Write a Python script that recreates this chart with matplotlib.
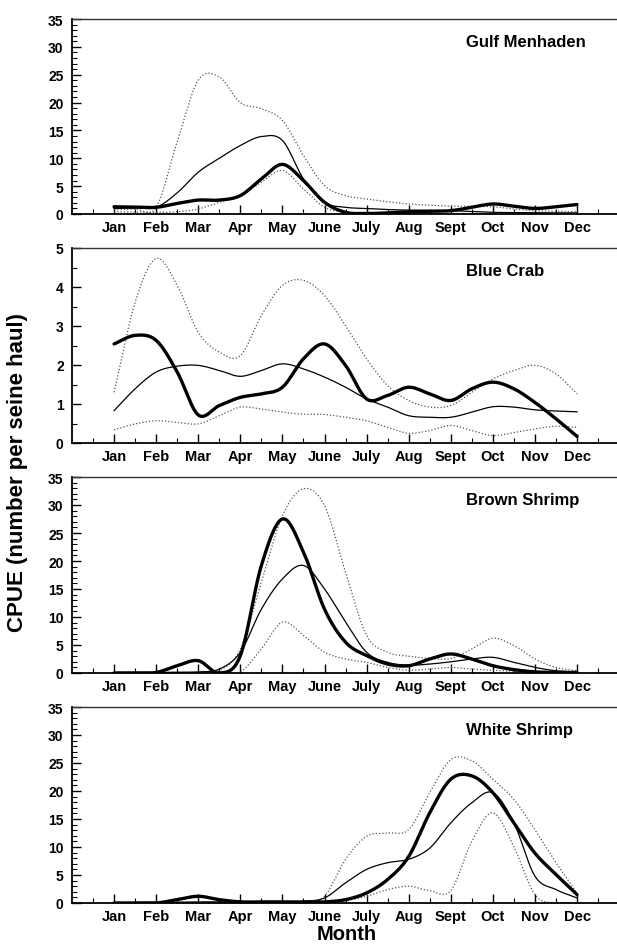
import numpy as np
import matplotlib
matplotlib.use("Agg")
import matplotlib.pyplot as plt
from matplotlib.ticker import MultipleLocator, FixedLocator

plt.rcParams['font.family'] = ['Liberation Sans', 'DejaVu Sans']
plt.rcParams['font.weight'] = 'bold'

months = ["Jan", "Feb", "Mar", "Apr", "May", "June", "July", "Aug", "Sept", "Oct", "Nov", "Dec"]
# sampling positions: each month and the midpoint between months (Jan = 1)
month_pos = np.arange(1, 12.01, 0.5)

# ---- Gulf Menhaden ----
menhaden_cpue = [1.3, 1.25, 1.2, 1.9, 2.5, 2.5, 3.3, 6.3, 8.9, 6.0, 2.1, 0.3,
                 0.1, 0.2, 0.4, 0.5, 0.6, 1.2, 1.8, 1.4, 1.0, 1.3, 1.7]
menhaden_mean = [1.0, 1.1, 1.2, 3.8, 7.5, 10.0, 12.3, 13.9, 13.2, 6.3, 2.1, 1.2,
                 1.0, 0.8, 0.7, 0.65, 0.6, 0.45, 0.3, 0.25, 0.2, 0.2, 0.2]
menhaden_upper = [0.8, 0.9, 1.2, 13.0, 24.0, 24.6, 20.0, 18.9, 16.8, 10.5, 5.1, 3.3,
                  2.7, 2.2, 1.8, 1.6, 1.4, 1.4, 1.3, 0.9, 0.6, 0.5, 0.4]
menhaden_lower = [0.4, 0.35, 0.3, 0.4, 0.9, 2.1, 3.3, 5.7, 7.8, 4.5, 1.2, 0.3,
                  0.0, 0.1, 0.1, 0.1, 0.1, 0.1, 0.1, 0.1, 0.1, 0.1, 0.1]

# ---- Blue Crab ----
crab_cpue = [2.54, 2.76, 2.63, 1.82, 0.72, 0.96, 1.17, 1.26, 1.43, 2.16, 2.54, 1.99,
             1.13, 1.22, 1.43, 1.26, 1.09, 1.39, 1.56, 1.39, 1.04, 0.62, 0.17]
crab_mean = [0.83, 1.39, 1.82, 1.97, 1.99, 1.86, 1.71, 1.86, 2.03, 1.90, 1.69, 1.43,
             1.13, 0.92, 0.70, 0.66, 0.66, 0.79, 0.93, 0.92, 0.85, 0.82, 0.80]
crab_upper = [1.30, 3.61, 4.73, 4.04, 2.84, 2.33, 2.24, 3.27, 4.04, 4.17, 3.78, 3.01,
              2.16, 1.47, 1.09, 0.92, 0.96, 1.30, 1.64, 1.86, 1.99, 1.77, 1.26]
crab_lower = [0.34, 0.49, 0.57, 0.53, 0.49, 0.70, 0.92, 0.87, 0.79, 0.74, 0.73, 0.66,
              0.57, 0.40, 0.25, 0.32, 0.45, 0.32, 0.19, 0.27, 0.36, 0.43, 0.40]

# ---- Brown Shrimp ----
brown_cpue = [0.0, 0.0, 0.1, 1.3, 2.2, 0.0, 3.1, 19.2, 27.5, 21.6, 11.4, 5.5,
              3.1, 1.6, 1.3, 2.5, 3.4, 2.5, 1.3, 0.6, 0.2, 0.1, 0.1]
brown_mean = [0.1, 0.1, 0.1, 0.15, 0.2, 0.7, 3.7, 11.4, 16.8, 19.2, 15.0, 9.1,
              3.7, 1.9, 1.4, 1.6, 2.0, 2.5, 2.8, 1.9, 1.0, 0.4, 0.2]
brown_upper = [0.0, 0.0, 0.0, 0.0, 0.0, 0.4, 4.3, 16.2, 28.1, 32.9, 29.9, 18.0,
               6.7, 3.7, 3.0, 2.6, 2.6, 4.3, 6.2, 4.9, 2.5, 1.0, 0.4]
brown_lower = [0.0, 0.0, 0.0, 0.0, 0.0, 0.0, 0.2, 4.3, 9.1, 6.7, 3.7, 2.5,
               1.9, 1.0, 0.5, 0.7, 1.0, 0.7, 0.5, 0.3, 0.2, 0.1, 0.1]

# ---- White Shrimp ----
white_cpue = [0.0, 0.0, 0.0, 0.6, 1.2, 0.6, 0.2, 0.2, 0.2, 0.2, 0.2, 0.6,
              1.8, 4.2, 8.3, 16.1, 22.1, 22.7, 19.7, 14.3, 8.9, 5.1, 1.5]
white_mean = [0.0, 0.1, 0.1, 0.15, 0.2, 0.2, 0.2, 0.2, 0.2, 0.3, 0.9, 3.6,
              6.0, 7.2, 7.8, 9.8, 14.3, 17.9, 19.7, 14.3, 4.8, 2.4, 0.9]
white_upper = [0.0, 0.0, 0.0, 0.0, 0.0, 0.0, 0.0, 0.0, 0.0, 0.0, 1.2, 7.8,
               11.9, 12.5, 13.1, 19.7, 25.6, 25.4, 22.1, 18.5, 13.1, 7.2, 1.8]
white_lower = [0.0, 0.0, 0.0, 0.0, 0.0, 0.0, 0.0, 0.0, 0.0, 0.0, 0.1, 0.4,
               1.2, 2.4, 3.0, 2.2, 2.2, 11.0, 16.1, 10.0, 1.5, 0.0, 0.0]

panels = [
    ("Gulf Menhaden", menhaden_cpue, menhaden_mean, menhaden_upper, menhaden_lower, 35),
    ("Blue Crab", crab_cpue, crab_mean, crab_upper, crab_lower, 5),
    ("Brown Shrimp", brown_cpue, brown_mean, brown_upper, brown_lower, 35),
    ("White Shrimp", white_cpue, white_mean, white_upper, white_lower, 35),
]


def smooth_curve(x, y, xs):
    """Catmull-Rom cubic through the samples, kept at or above zero."""
    x = np.asarray(x, float)
    y = np.asarray(y, float)
    h = np.diff(x)
    m = np.empty_like(y)
    m[1:-1] = (y[2:] - y[:-2]) / (x[2:] - x[:-2])
    m[0] = (y[1] - y[0]) / h[0]
    m[-1] = (y[-1] - y[-2]) / h[-1]
    idx = np.clip(np.searchsorted(x, xs) - 1, 0, len(x) - 2)
    t = (xs - x[idx]) / h[idx]
    h00 = 2 * t**3 - 3 * t**2 + 1
    h10 = t**3 - 2 * t**2 + t
    h01 = -2 * t**3 + 3 * t**2
    h11 = t**3 - t**2
    ys = (h00 * y[idx] + h10 * h[idx] * m[idx]
          + h01 * y[idx + 1] + h11 * h[idx] * m[idx + 1])
    return np.maximum(ys, 0.0)


W, H = 617, 945
fig = plt.figure(figsize=(W / 100, H / 100), dpi=100)

# panel extents in pixels (top, bottom)
extents = [(20, 215), (249, 444), (478, 674), (708, 904)]
left_px = 72
xs = np.linspace(1, 12, 800)

for (name, cpue, mean, upper, lower, ymax), (top, bot) in zip(panels, extents):
    ax = fig.add_axes([left_px / W, 1 - bot / H, (W - left_px) / W, (bot - top) / H])
    ax.plot(xs, smooth_curve(month_pos, upper, xs), color="#555555", lw=0.9,
            ls=(0, (1, 1.6)), clip_on=False)
    ax.plot(xs, smooth_curve(month_pos, lower, xs), color="#555555", lw=0.9,
            ls=(0, (1, 1.6)), clip_on=False)
    ax.plot(xs, smooth_curve(month_pos, mean, xs), color="black", lw=0.9)
    ax.plot(xs, smooth_curve(month_pos, cpue, xs), color="black", lw=2.4,
            solid_capstyle="round")

    ax.set_xlim(0, 12.95)
    ax.set_ylim(0, ymax)

    ax.xaxis.set_major_locator(FixedLocator(np.arange(1, 13)))
    ax.xaxis.set_minor_locator(FixedLocator(np.arange(0.5, 13, 1.0)))
    ax.set_xticklabels(months)
    if ymax == 5:
        ax.yaxis.set_major_locator(MultipleLocator(1))
        ax.yaxis.set_minor_locator(MultipleLocator(0.5))
    else:
        ax.yaxis.set_major_locator(MultipleLocator(5))
        ax.yaxis.set_minor_locator(MultipleLocator(1))

    ax.tick_params(which="major", direction="in", length=6.5, width=1.0,
                   labelsize=10.5, pad=4)
    ax.tick_params(which="minor", direction="in", length=3.5, width=0.8)
    ax.tick_params(axis="y", which="major", pad=6, labelsize=10)
    for lab in ax.get_xticklabels() + ax.get_yticklabels():
        lab.set_fontweight("bold")

    ax.spines["right"].set_visible(False)
    ax.spines["left"].set_linewidth(1.3)
    ax.spines["bottom"].set_linewidth(1.3)
    ax.spines["top"].set_linewidth(1.0)
    ax.spines["top"].set_color("#333333")

    ax.text(0.723, 0.885, name, transform=ax.transAxes, fontsize=12,
            fontweight="bold", ha="left", va="center")

fig.text(18 / W, 1 - 473 / H, "CPUE (number per seine haul)", rotation=90,
         fontsize=16, fontweight="bold", ha="center", va="center")
fig.text(347 / W, 1 - 940 / H, "Month", fontsize=14.5, fontweight="bold",
         ha="center", va="baseline")

fig.savefig("out.png", dpi=100)
